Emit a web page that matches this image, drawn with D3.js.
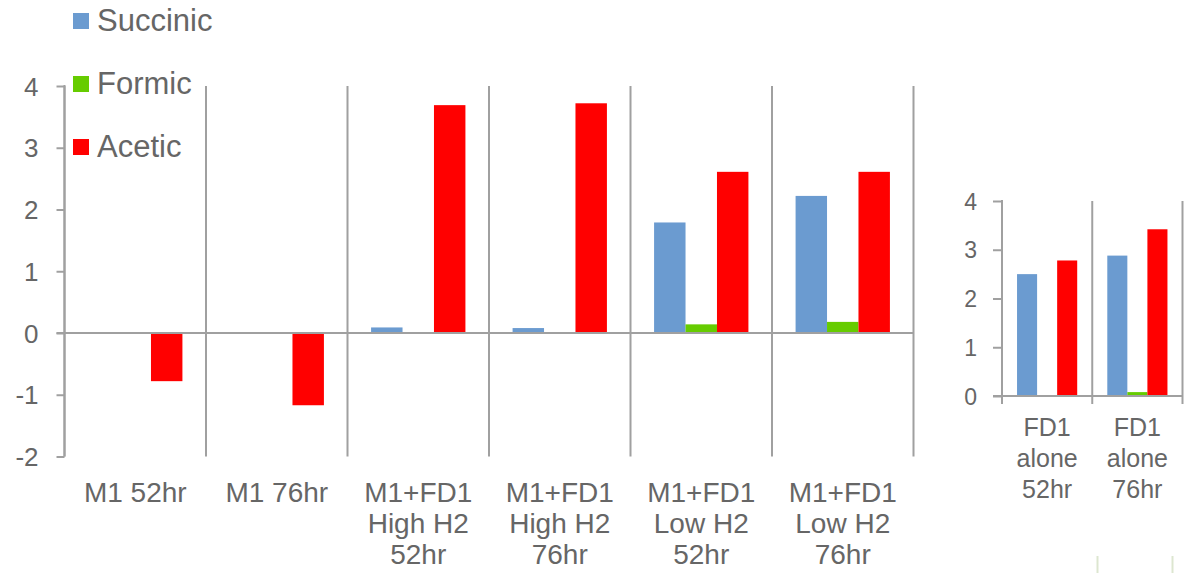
<!DOCTYPE html>
<html>
<head>
<meta charset="utf-8">
<script src="https://cdn.jsdelivr.net/npm/d3@7"></script>
<style>
  html, body { margin: 0; padding: 0; background: #fff; }
  svg { display: block; font-family: "Liberation Sans", Arial, sans-serif; }
</style>
</head>
<body>
<svg id="chart" width="1189" height="573"></svg>
<script>
// Series names and colours
const seriesNames = ["Succinic", "Formic", "Acetic"];
const seriesColors = ["#6b9bd0", "#66cc00", "#ff0000"];

// Main panel: co-culture conditions
const mainCategories = [
  ["M1 52hr"],
  ["M1 76hr"],
  ["M1+FD1", "High H2", "52hr"],
  ["M1+FD1", "High H2", "76hr"],
  ["M1+FD1", "Low H2", "52hr"],
  ["M1+FD1", "Low H2", "76hr"]
];
const mainSuccinic = [0, 0, 0.09, 0.08, 1.79, 2.22];
const mainFormic   = [0, 0, 0, 0, 0.14, 0.18];
const mainAcetic   = [-0.78, -1.17, 3.69, 3.72, 2.61, 2.61];
const mainTicks    = [-2, -1, 0, 1, 2, 3, 4];

// Side panel: FD1 alone
const sideCategories = [
  ["FD1", "alone", "52hr"],
  ["FD1", "alone", "76hr"]
];
const sideSuccinic = [2.50, 2.88];
const sideFormic   = [0, 0.08];
const sideAcetic   = [2.78, 3.42];
const sideTicks    = [0, 1, 2, 3, 4];

const svg = d3.select("#chart");
const axisColor = "#a0a0a0";
const textColor = "#666666";

function drawPanel(cfg) {
  const g = svg.append("g");
  const keys = cfg.categories.map((d, i) => i);
  const x = d3.scaleBand().domain(keys).range([cfg.x0, cfg.x1]).padding(0);
  const inner = d3.scaleBand().domain(seriesNames).range([0, x.bandwidth()]).paddingInner(0).paddingOuter(0.75);
  const y = d3.scaleLinear().domain(cfg.domain).range([cfg.yBottom, cfg.yTop]);

  // vertical separators between categories
  const bounds = keys.map(k => x(k)).concat([cfg.x1]);
  g.selectAll("line.sep").data(bounds).join("line")
    .attr("class", "sep")
    .attr("x1", d => d).attr("x2", d => d)
    .attr("y1", cfg.yTop).attr("y2", cfg.sepBottom)
    .attr("stroke", axisColor).attr("stroke-width", 2);

  // bars
  const rows = [];
  cfg.values.forEach((vals, s) => {
    vals.forEach((v, i) => rows.push({ s, i, v }));
  });
  g.selectAll("rect.bar").data(rows.filter(r => r.v !== 0)).join("rect")
    .attr("class", "bar")
    .attr("x", d => x(d.i) + inner(seriesNames[d.s]))
    .attr("width", inner.bandwidth())
    .attr("y", d => Math.min(y(d.v), y(0)))
    .attr("height", d => Math.abs(y(d.v) - y(0)))
    .attr("fill", d => seriesColors[d.s]);

  // value axis (plain hyphen for negatives)
  const yAxis = d3.axisLeft(y).tickValues(cfg.ticks).tickSize(cfg.tickLen)
    .tickPadding(cfg.tickPad).tickFormat(d => String(d));
  const ag = g.append("g").attr("transform", `translate(${cfg.x0},0)`).call(yAxis);
  ag.select(".domain").remove();
  ag.selectAll(".tick line").attr("stroke", axisColor).attr("stroke-width", 2);
  ag.selectAll(".tick text")
    .attr("fill", textColor)
    .style("font-size", cfg.tickFont + "px")
    .attr("dy", "0.35em");
  g.append("line")
    .attr("x1", cfg.x0).attr("x2", cfg.x0)
    .attr("y1", cfg.yTop - 1).attr("y2", cfg.axisBottom)
    .attr("stroke", axisColor).attr("stroke-width", 2);

  // zero baseline
  g.append("line")
    .attr("x1", cfg.x0 - cfg.tickLen).attr("x2", cfg.x1)
    .attr("y1", y(0)).attr("y2", y(0))
    .attr("stroke", axisColor).attr("stroke-width", 2);

  // category labels
  const lab = g.selectAll("text.cat").data(cfg.categories).join("text")
    .attr("class", "cat")
    .attr("text-anchor", "middle")
    .attr("fill", textColor)
    .style("font-size", cfg.catFont + "px");
  lab.each(function (lines, i) {
    d3.select(this).selectAll("tspan").data(lines).join("tspan")
      .attr("x", x(i) + x.bandwidth() / 2)
      .attr("y", (d, j) => cfg.catBase + j * cfg.catLine)
      .text(d => d);
  });
}

drawPanel({
  categories: mainCategories,
  values: [mainSuccinic, mainFormic, mainAcetic],
  ticks: mainTicks,
  domain: [-2, 4],
  x0: 64.5, x1: 913.5,
  yTop: 86, yBottom: 456.5,
  sepBottom: 456.5, axisBottom: 456.5,
  tickLen: 8, tickPad: 18, tickFont: 26,
  catFont: 28, catBase: 502, catLine: 31
});

drawPanel({
  categories: sideCategories,
  values: [sideSuccinic, sideFormic, sideAcetic],
  ticks: sideTicks,
  domain: [0, 4],
  x0: 1002, x1: 1182.5,
  yTop: 201, yBottom: 396,
  sepBottom: 404, axisBottom: 404,
  tickLen: 9, tickPad: 16, tickFont: 23,
  catFont: 25, catBase: 436, catLine: 31
});

// legend
const legend = svg.append("g");
const legY = d3.scalePoint().domain(seriesNames).range([31, 157]);
seriesNames.forEach((name, i) => {
  legend.append("rect")
    .attr("x", 73).attr("y", legY(name) - 18)
    .attr("width", 16).attr("height", 16)
    .attr("fill", seriesColors[i]);
  legend.append("text")
    .attr("x", 97).attr("y", legY(name))
    .attr("fill", textColor)
    .style("font-size", "31px")
    .text(name);
});

// faint edge marks at the lower right
svg.selectAll("line.edge").data([1097.5, 1172.5]).join("line")
  .attr("class", "edge")
  .attr("x1", d => d).attr("x2", d => d)
  .attr("y1", 556).attr("y2", 573)
  .attr("stroke", "#dde6d0").attr("stroke-width", 2);
</script>
</body>
</html>
